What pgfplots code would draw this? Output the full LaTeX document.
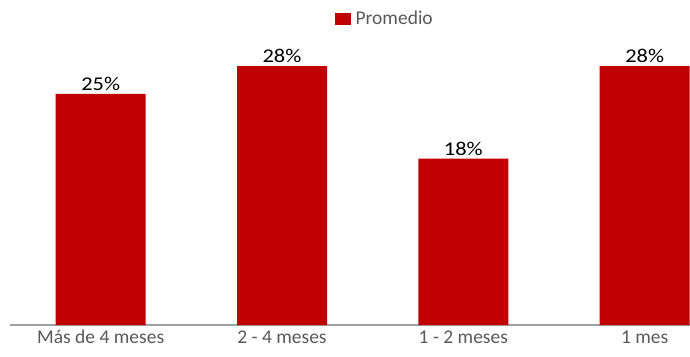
\documentclass[border=0pt]{standalone}
\usepackage{fontspec}
\setmainfont{Carlito}
\newfontfamily\numfont{Carlito}[FakeStretch=1.15]
\usepackage{pgfplots}
\pgfplotsset{compat=1.18}
\definecolor{barred}{HTML}{C00000}
\definecolor{lblgray}{HTML}{595959}
\definecolor{axgray}{HTML}{A0A0A0}
\begin{document}
\fontsize{19.5}{23}\selectfont
\begin{tikzpicture}[x=1pt,y=1pt]
\useasboundingbox (0,0) rectangle (690,356);
\begin{axis}[
  at={(10pt,31pt)}, anchor=south west,
  scale only axis, width=680pt, height=296pt,
  xmin=-0.5, xmax=3.25, ymin=0, ymax=32,
  ybar, bar width=90pt,
  axis y line=none,
  axis x line*=bottom,
  x axis line style={axgray, line width=1.3pt, -},
  xtick={0,1,2,3},
  xticklabels={Más de 4 meses, 2 - 4 meses, 1 - 2 meses, 1 mes},
  major tick length=0pt,
  xticklabel style={text=lblgray, anchor=base, yshift=-18pt, font=\fontsize{19.5}{23}\selectfont},
  point meta=explicit symbolic,
  nodes near coords={\pgfplotspointmeta},
  nodes near coords style={text=black, inner sep=3pt, font=\numfont\fontsize{19.5}{23}\selectfont},
  legend style={at={(0.551,1.034)}, anchor=center, draw=none, fill=none, text=lblgray, font=\fontsize{19.5}{23}\selectfont, inner sep=0pt},
  legend image code/.code={\fill[barred] (0pt,-6pt) rectangle (16pt,6pt); \path (0pt,0pt) -- (19pt,0pt);},
  clip=false,
]
\addplot[fill=barred, draw=none] coordinates {
  (0,25) [25\%]
  (1,28) [28\%]
  (2,18) [18\%]
  (3,28) [28\%]
};
\addlegendentry{Promedio}
\end{axis}
\end{tikzpicture}
\end{document}
